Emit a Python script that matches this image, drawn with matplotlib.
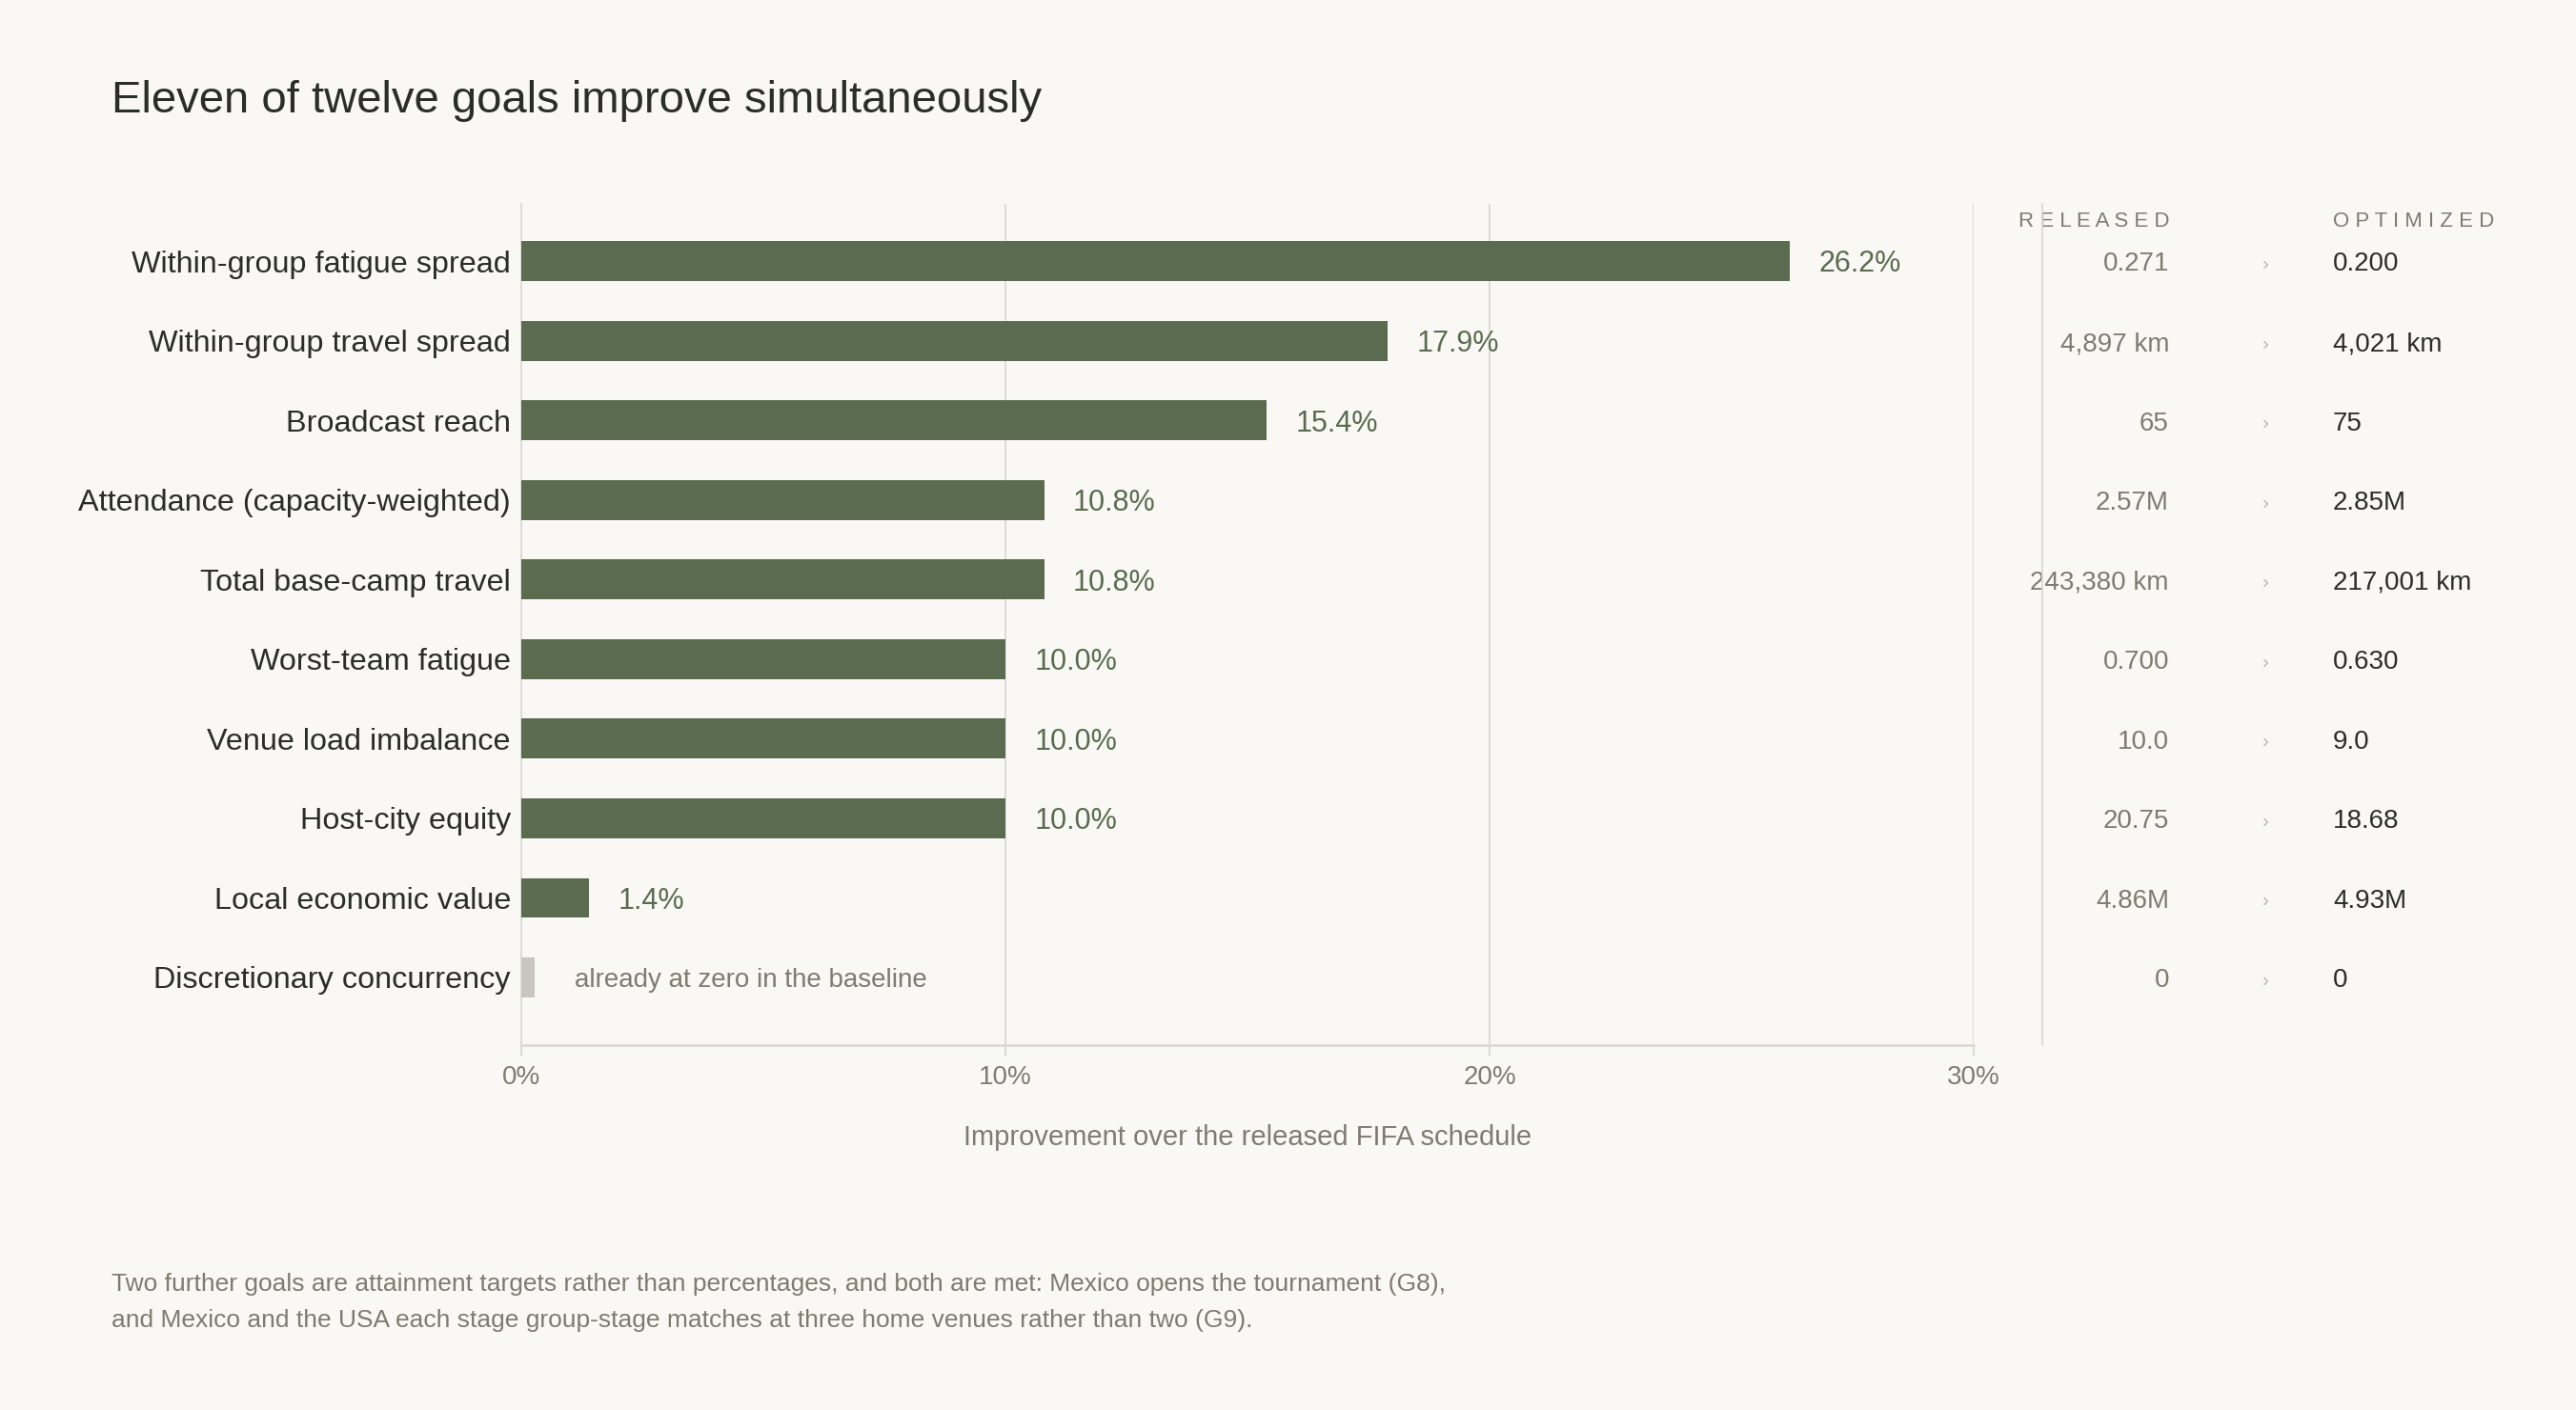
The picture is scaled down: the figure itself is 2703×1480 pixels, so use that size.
import matplotlib
matplotlib.use("Agg")
import matplotlib.pyplot as plt
from matplotlib.transforms import blended_transform_factory
from matplotlib.lines import Line2D

plt.rcParams['font.family'] = ['Liberation Sans', 'DejaVu Sans']

# data
goals = ["Within-group fatigue spread", "Within-group travel spread", "Broadcast reach",
         "Attendance (capacity-weighted)", "Total base-camp travel", "Worst-team fatigue",
         "Venue load imbalance", "Host-city equity", "Local economic value",
         "Discretionary concurrency"]
improvement = [26.2, 17.9, 15.4, 10.8, 10.8, 10.0, 10.0, 10.0, 1.4, 0.0]
released = ["0.271", "4,897 km", "65", "2.57M", "243,380 km", "0.700", "10.0", "20.75", "4.86M", "0"]
optimized = ["0.200", "4,021 km", "75", "2.85M", "217,001 km", "0.630", "9.0", "18.68", "4.93M", "0"]
xticks = [0, 10, 20, 30]
xtick_labels = ["0%", "10%", "20%", "30%"]

BG = "#f9f8f4"
GREEN = "#5a6b4f"
GREY_BAR = "#c8c6bf"
DARK = "#2b2d27"
MUTED = "#7f7b72"
GRID = "#dcdad3"

W, H = 2703, 1480
fig = plt.figure(figsize=(W / 100, H / 100), dpi=100, facecolor=BG)
ax = fig.add_axes([547 / W, 1 - 1097 / H, (2071 - 547) / W, (1097 - 214) / H])
ax.set_facecolor(BG)

ypos = list(range(len(goals)))
stub = 0.28
dy = 0.04  # nudge text onto the bar middle
for y, v in zip(ypos, improvement):
    if v > 0:
        ax.barh(y, v, height=0.5, color=GREEN, zorder=3)
        ax.text(v + 0.6, y + dy, "%.1f%%" % v, va="center", ha="left", fontsize=22, color=GREEN)
    else:
        ax.barh(y, stub, height=0.5, color=GREY_BAR, zorder=3)
        ax.text(1.1, y + dy, "already at zero in the baseline", va="center", ha="left",
                fontsize=20, color=MUTED)

ax.set_xlim(0, 30)
ax.set_ylim(9.85, -0.72)
ax.set_yticks(ypos)
ax.set_yticklabels(goals, fontsize=23.3, color=DARK)
ax.set_xticks(xticks)
ax.set_xticklabels(xtick_labels, fontsize=20, color=MUTED)
ax.tick_params(axis="y", length=0, pad=8)
ax.tick_params(axis="x", length=8, color=GRID, width=1.5, pad=7)
for x in xticks[1:]:
    ax.axvline(x, color=GRID, lw=1.3, zorder=1)
for s in ["top", "right"]:
    ax.spines[s].set_visible(False)
ax.spines["left"].set_color(GRID)
ax.spines["left"].set_linewidth(1.3)
ax.spines["bottom"].set_color(GRID)
ax.spines["bottom"].set_linewidth(2)
ax.set_xlabel("Improvement over the released FIFA schedule", fontsize=21, color=MUTED, labelpad=26)

# right-hand table
tr = blended_transform_factory(fig.transFigure, ax.transData)
fig.add_artist(Line2D([2143 / W, 2143 / W], [1 - 214 / H, 1 - 1097 / H], color=GRID, lw=1.3))
ax.text(2277 / W, -0.5, " ".join("RELEASED"), transform=tr, ha="right", va="center",
        fontsize=16, color=MUTED)
ax.text(2448 / W, -0.5, " ".join("OPTIMIZED"), transform=tr, ha="left", va="center",
        fontsize=16, color=MUTED)
for y, r, o in zip(ypos, released, optimized):
    ax.text(2276 / W, y + dy, r, transform=tr, ha="right", va="center", fontsize=20, color=MUTED)
    ax.text(2377 / W, y + dy, "\u203a", transform=tr, ha="center", va="center", fontsize=15, color="#bdb9b0")
    ax.text(2448 / W, y + dy, o, transform=tr, ha="left", va="center", fontsize=20, color=DARK)

fig.text(117 / W, 1 - 106 / H, "Eleven of twelve goals improve simultaneously",
         fontsize=34, color=DARK, va="center", ha="left")
fig.text(117 / W, 1 - 1336 / H,
         "Two further goals are attainment targets rather than percentages, and both are met: "
         "Mexico opens the tournament (G8),\nand Mexico and the USA each stage group-stage "
         "matches at three home venues rather than two (G9).",
         fontsize=19, color=MUTED, va="top", ha="left", linespacing=1.72)

fig.savefig("out.png", dpi=100, facecolor=BG)
